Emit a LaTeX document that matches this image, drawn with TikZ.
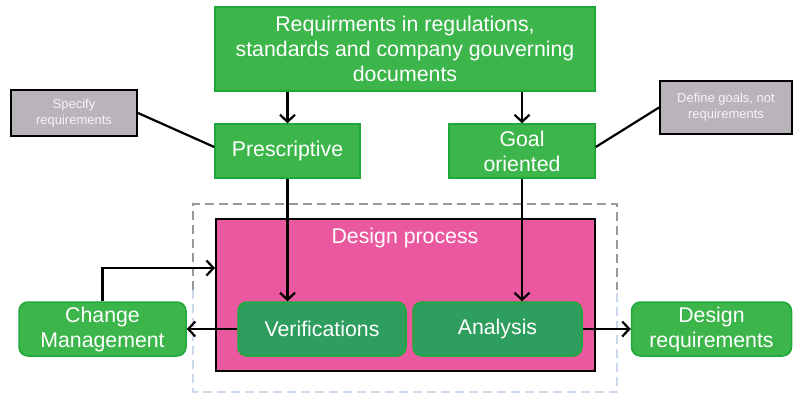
\documentclass[tikz,border=0pt]{standalone}
\usepackage{fontspec}
\setmainfont{Liberation Sans}
\usetikzlibrary{arrows.meta}
\definecolor{boxgreen}{HTML}{3CB54B}
\definecolor{edgegreen}{HTML}{1FA83A}
\definecolor{darkgreen}{HTML}{2E9E5E}
\definecolor{procpink}{HTML}{EA589F}
\definecolor{notegray}{HTML}{B9B4BA}
\definecolor{dashblue}{HTML}{CCD8EC}
\tikzset{
  greenbox/.style={draw=edgegreen, fill=boxgreen, line width=1.5pt, text=white,
    align=center, inner sep=0pt, font=\fontsize{21.3}{25}\selectfont},
  roundbox/.style={greenbox, rounded corners=9pt},
  innerbox/.style={roundbox, fill=darkgreen},
  notebox/.style={draw=black, fill=notegray, line width=2pt, text=white!92!gray,
    align=center, inner sep=0pt, font=\fontsize{13}{16}\selectfont},
  arr/.style={line width=2.2pt, -{Straight Barb[length=7pt,width=15pt]}},
  link/.style={line width=2.2pt}
}
\begin{document}
\begin{tikzpicture}[x=1pt,y=-1pt]
    \useasboundingbox (0,0) rectangle (793,394);
    % surrounding dashed frame
    \draw[gray!80, line width=1.8pt, dash pattern=on 9pt off 5pt] (193,290) -- (193,204) -- (617,204) -- (617,290);
    \draw[dashblue, line width=1.8pt, dash pattern=on 9pt off 5pt] (193,290) -- (193,392) -- (617,392) -- (617,290);
    \node[draw=black, fill=procpink, line width=2pt, minimum width=379pt, minimum height=152pt] (proc) at (405.5,295) {};
    \node[text=white, font=\fontsize{21.3}{25}\selectfont] (proclbl) at (405,238) {Design process};
    \node[greenbox, minimum width=380pt, minimum height=84pt] (regs) at (405,49)
        {Requirments in regulations,\\standards and company gouverning\\documents};
    \node[greenbox, minimum width=145pt, minimum height=54pt] (presc) at (287.5,151) {Prescriptive};
    \node[greenbox, minimum width=146pt, minimum height=54pt] (goal) at (522,151) {Goal\\oriented};
    \node[notebox, minimum width=126pt, minimum height=46pt] (spec) at (74,113) {Specify\\requirements};
    \node[notebox, minimum width=132pt, minimum height=53pt] (defg) at (726,107.5) {Define goals, not\\requirements};
    \node[innerbox, minimum width=168pt, minimum height=54pt] (verif) at (322,329) {Verifications};
    \node[innerbox, minimum width=169pt, minimum height=54pt] (anal) at (497.5,329) {Analysis};
    \node[roundbox, minimum width=167pt, minimum height=54pt] (change) at (102.5,329) {Change\\Management};
    \node[roundbox, minimum width=160pt, minimum height=54pt] (dreq) at (711.5,329) {Design\\requirements};
    \draw[arr] (presc.north |- regs.south) -- (presc.north);
    \draw[arr] (goal.north |- regs.south) -- (goal.north);
    \draw[arr] (presc.south) -- (presc.south |- verif.north);
    \draw[arr] (goal.south) -- (goal.south |- anal.north);
    \draw[arr] (verif.west) -- (change.east);
    \draw[arr] (anal.east) -- (dreq.west);
    \draw[arr] (change.north) |- ([yshift=27pt]proc.west);
    \draw[link] (spec.east) -- ([yshift=4pt]presc.west);
    \draw[link] (defg.west) -- ([yshift=4pt]goal.east);
\end{tikzpicture}
\end{document}
